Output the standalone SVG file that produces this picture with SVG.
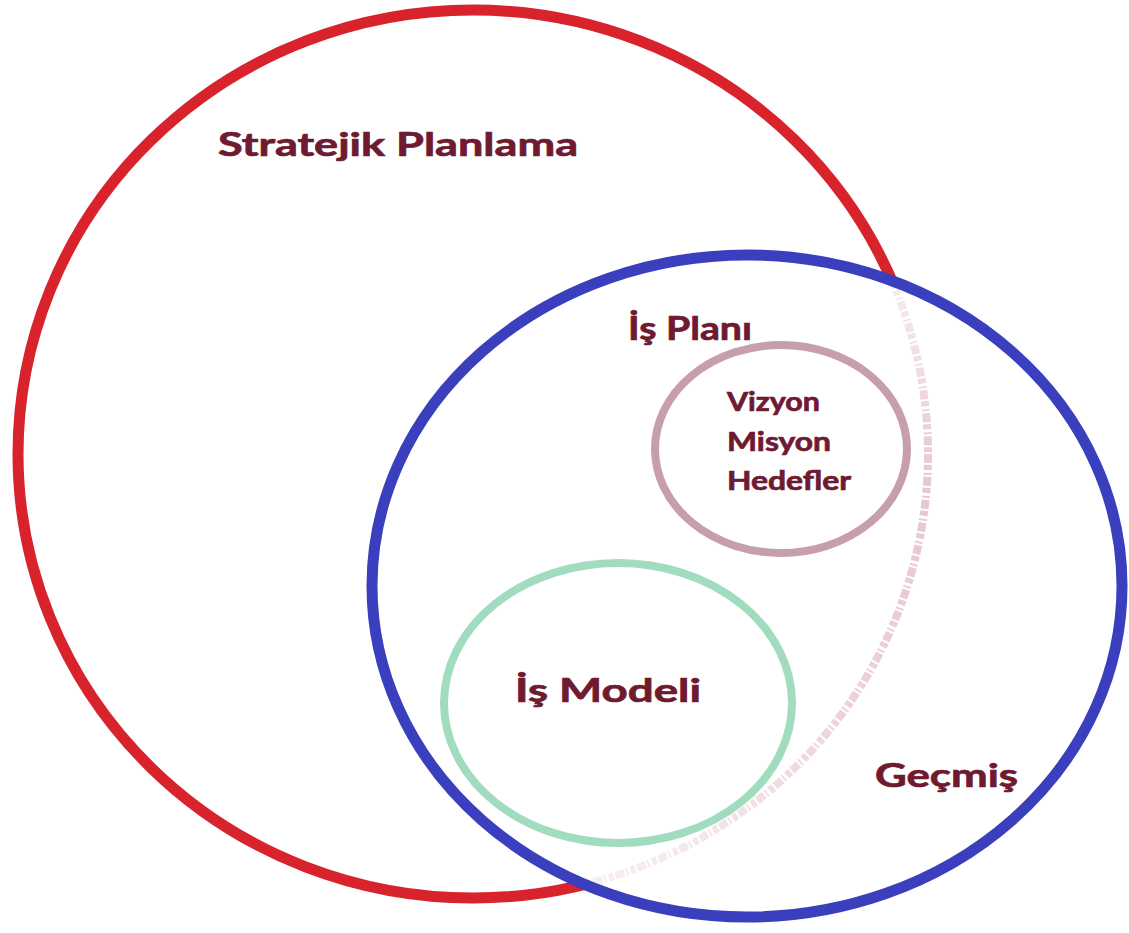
<svg xmlns="http://www.w3.org/2000/svg" width="1129" height="933" viewBox="0 0 1129 933">
  <style>
    .lbl { font-family: Lato, "Liberation Sans", sans-serif; font-weight: 700; fill: #6e1a31; stroke: #6e1a31; stroke-width: 0.7px; }
    .big { font-size: 32px; }
    .small { font-size: 26px; }
  </style>
  <defs>
    <clipPath id="blueInside">
      <ellipse cx="747" cy="586" rx="375" ry="331"/>
    </clipPath>
    <linearGradient id="fade" gradientUnits="userSpaceOnUse" x1="0" y1="260" x2="0" y2="900">
      <stop offset="0" stop-color="#d49aa6" stop-opacity="0.15"/>
      <stop offset="0.35" stop-color="#d49aa6" stop-opacity="0.55"/>
      <stop offset="0.7" stop-color="#d49aa6" stop-opacity="0.45"/>
      <stop offset="1" stop-color="#d49aa6" stop-opacity="0.15"/>
    </linearGradient>
  </defs>
  <rect width="1129" height="933" fill="#ffffff"/>

  <g id="stratejik-planlama">
    <ellipse cx="473" cy="454" rx="455" ry="444" fill="none" stroke="#d8232c" stroke-width="11"/>
    <text class="lbl big" x="218" y="156" textLength="360" lengthAdjust="spacingAndGlyphs">Stratejik Planlama</text>
  </g>

  <g id="is-plani">
    <ellipse cx="747" cy="586" rx="375" ry="331" fill="#ffffff" stroke="none"/>
    <ellipse cx="473" cy="454" rx="455" ry="444" fill="none" stroke="url(#fade)" stroke-width="8" stroke-dasharray="9 2 5 3 2 2" clip-path="url(#blueInside)"/>
    <ellipse cx="747" cy="586" rx="375" ry="331" fill="none" stroke="#3a3fbd" stroke-width="11"/>
    <text class="lbl big" x="628" y="340" textLength="124" lengthAdjust="spacingAndGlyphs">İş Planı</text>
  </g>

  <g id="vizyon-misyon-hedefler">
    <ellipse cx="781" cy="449" rx="126" ry="104" fill="none" stroke="#c79fac" stroke-width="8"/>
    <text class="lbl small" x="727" y="411" textLength="93" lengthAdjust="spacingAndGlyphs">Vizyon</text>
    <text class="lbl small" x="727" y="451" textLength="104" lengthAdjust="spacingAndGlyphs">Misyon</text>
    <text class="lbl small" x="727" y="490" textLength="124" lengthAdjust="spacingAndGlyphs">Hedefler</text>
  </g>

  <g id="is-modeli">
    <ellipse cx="618" cy="703" rx="174" ry="140" fill="none" stroke="#a2dcbf" stroke-width="8"/>
    <text class="lbl big" x="515" y="702" textLength="186" lengthAdjust="spacingAndGlyphs">İş Modeli</text>
  </g>

  <g id="gecmis">
    <text class="lbl big" x="875" y="787" textLength="143" lengthAdjust="spacingAndGlyphs">Geçmiş</text>
  </g>

  <g id="connectors"/>
</svg>
